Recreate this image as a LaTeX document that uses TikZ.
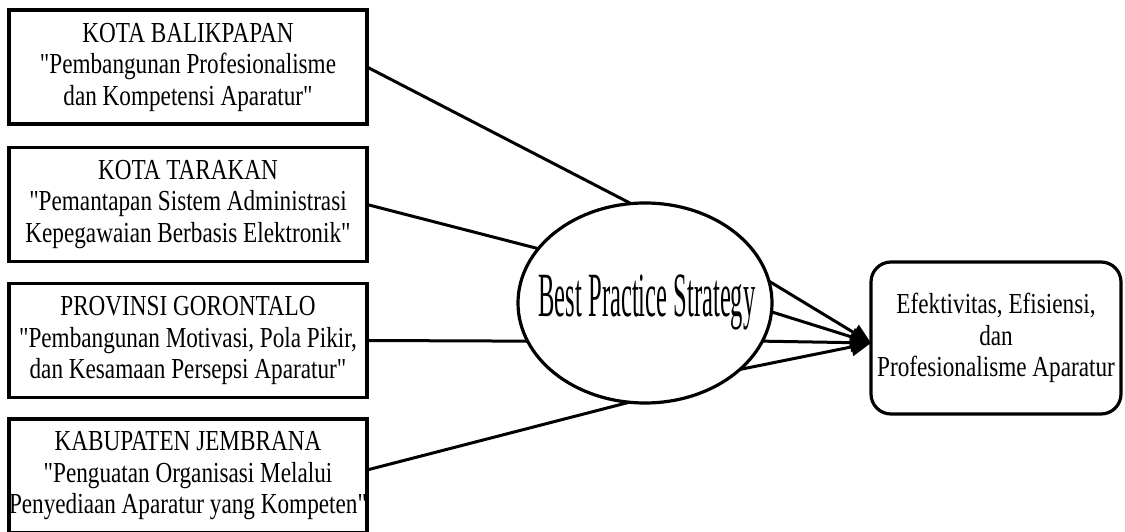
\documentclass[tikz,border=0pt]{standalone}
\usepackage{fontspec}
\setmainfont{Liberation Serif}
\newfontfamily\boxfont[FakeStretch=0.80]{Liberation Serif}
\newfontfamily\bigfont[FakeStretch=0.39]{Liberation Serif}
\usetikzlibrary{shapes.geometric,arrows.meta}
\begin{document}
\begin{tikzpicture}[x=1pt,y=-1pt,
  srcbox/.style={draw, line width=3.2pt, minimum width=358pt, minimum height=114pt,
    inner sep=0pt, outer sep=0pt, align=center, font=\boxfont\fontsize{29}{31.5}\selectfont},
  tgtbox/.style={draw, line width=3.2pt, rounded corners=20pt, minimum width=250pt, minimum height=152pt,
    inner sep=0pt, outer sep=0pt, align=center, font=\boxfont\fontsize{29}{31.5}\selectfont},
  bpsell/.style={draw, ellipse, line width=3.2pt, minimum width=254pt, minimum height=200pt,
    inner sep=0pt, outer sep=0pt},
  link/.style={line width=3pt},
  arr/.style={line width=3pt, -{Triangle[length=20pt,width=18pt]}}]
\useasboundingbox (0,0) rectangle (1125,532);
\node[srcbox] (b1) at (188,67) {KOTA BALIKPAPAN\\"Pembangunan Profesionalisme\\dan Kompetensi Aparatur"};
\node[srcbox] (b2) at (188,204.5) {KOTA TARAKAN\\"Pemantapan Sistem Administrasi\\Kepegawaian Berbasis Elektronik"};
\node[srcbox] (b3) at (188,340.5) {PROVINSI GORONTALO\\"Pembangunan Motivasi, Pola Pikir,\\dan Kesamaan Persepsi Aparatur"};
\node[srcbox] (b4) at (188,476) {KABUPATEN JEMBRANA\\"Penguatan Organisasi Melalui\\Penyediaan Aparatur yang Kompeten"};
\node[bpsell] (bps) at (645,303) {};
\node[anchor=base, inner sep=0pt, font=\bigfont\fontsize{63}{66}\selectfont] (bpst) at (647,316) {Best Practice Strategy};
\node[tgtbox] (tgt) at (996,338) {Efektivitas, Efisiensi,\\dan\\Profesionalisme Aparatur};
\coordinate (tip) at ([yshift=-5pt]tgt.west);
\draw[link] (b1.east) -- (bps.98.6);
\draw[link] (b2.east) -- (bps.153.9);
\draw[link] (b3.east) -- (bps.198.4);
\draw[link] ([yshift=6pt]b4.east) -- (bps.261.5);
\draw[arr] (bps.10.7) -- (tip);
\draw[arr] (bps.-4.5) -- (tip);
\draw[arr] (bps.-18.9) -- (tip);
\draw[arr] (bps.-35.7) -- (tip);
\end{tikzpicture}
\end{document}
